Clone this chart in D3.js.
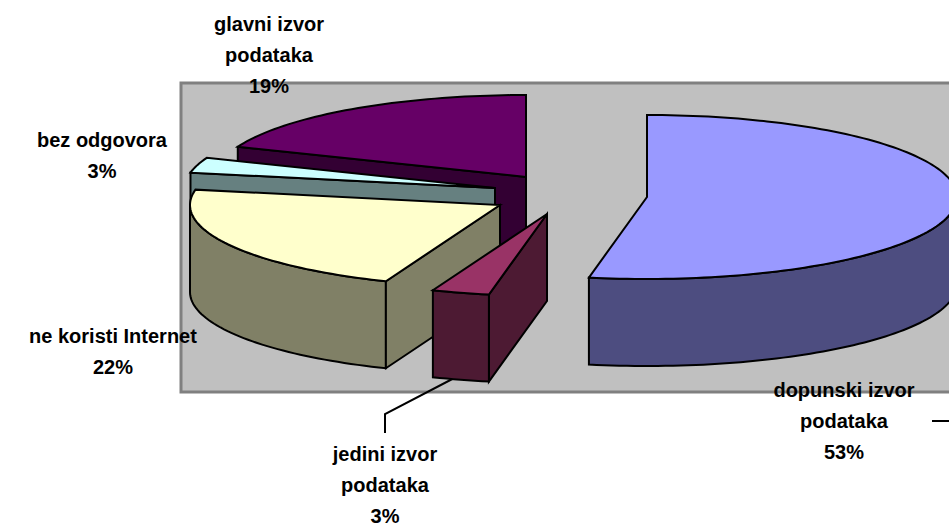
<!DOCTYPE html>
<html>
<head>
<meta charset="utf-8">
<script src="https://cdn.jsdelivr.net/npm/d3@7"></script>
<style>
  html, body { margin: 0; padding: 0; background: #fff; overflow: hidden; }
  text { font-family: "Liberation Sans", Arial, sans-serif; font-weight: bold; font-size: 20px; fill: #000; }
</style>
</head>
<body>
<div id="vis"></div>
<script>
// slices, clockwise from 12 o'clock
var categories = ["dopunski izvor podataka", "jedini izvor podataka", "ne koristi Internet", "bez odgovora", "glavni izvor podataka"];
var values = [53, 3, 22, 3, 19];
var topColors = ["#9999ff", "#993366", "#ffffcc", "#ccffff", "#660066"];
var sideColors = ["#4d4d80", "#4d1a33", "#808066", "#668080", "#330033"];

// where each exploded slice has its apex
var apexX = [647, 547, 500, 495, 526];
var apexY = [197, 214, 205, 188, 177];

// label lines and where they sit
var labelLines = [
  ["dopunski izvor", "podataka", "53%"],
  ["jedini izvor", "podataka", "3%"],
  ["ne koristi Internet", "22%"],
  ["bez odgovora", "3%"],
  ["glavni izvor", "podataka", "19%"]
];
var labelX = [844, 385, 113, 102, 269];
var labelY = [397, 461, 343, 147, 31];
var lineGap = 31;

var width = 949, height = 524;
var depth = 87;
var plot = {left: 181, top: 83, right: 965, bottom: 392};

var svg = d3.select("#vis")
  .append("svg")
  .attr("width", width)
  .attr("height", height)
  .style("display", "block");

// unit circle -> flattened pie
var xScale = d3.scaleLinear().domain([-1, 1]).range([-310, 310]);
var yScale = d3.scaleLinear().domain([-1, 1]).range([-82, 82]);

var pie = d3.pie().sort(null).startAngle(0).endAngle(2 * Math.PI);
var slices = pie(values);

var line = d3.line();

function rim(i, a) {
  return [apexX[i] + xScale(Math.sin(a)), apexY[i] + yScale(-Math.cos(a))];
}

function rimPoints(i, a0, a1) {
  var n = Math.max(2, Math.ceil((a1 - a0) * 40));
  return d3.range(n + 1).map(function(k) {
    return rim(i, a0 + (a1 - a0) * k / n);
  });
}

function drop(p) {
  return [p[0], p[1] + depth];
}

function drawFace(pts, color) {
  svg.append("path")
    .attr("d", line(pts) + "Z")
    .attr("fill", color)
    .attr("stroke", "#000")
    .attr("stroke-width", 2)
    .attr("stroke-linejoin", "miter");
}

function cutFace(i, a) {
  var apex = [apexX[i], apexY[i]];
  var p = rim(i, a);
  drawFace([apex, p, drop(p), drop(apex)], sideColors[i]);
}

function outerWall(i, a0, a1) {
  // only the front half of the rim shows
  var from = Math.max(a0, Math.PI / 2);
  var to = Math.min(a1, Math.PI * 1.5);
  if (to <= from) return;
  var pts = rimPoints(i, from, to);
  drawFace(pts.concat(pts.map(drop).reverse()), sideColors[i]);
}

function topFace(i, a0, a1) {
  var apex = [apexX[i], apexY[i]];
  drawFace([apex].concat(rimPoints(i, a0, a1)), topColors[i]);
}

// plot area
svg.append("rect")
  .attr("x", plot.left)
  .attr("y", plot.top)
  .attr("width", plot.right - plot.left)
  .attr("height", plot.bottom - plot.top)
  .attr("fill", "#c0c0c0")
  .attr("stroke", "#808080")
  .attr("stroke-width", 3);

// back to front
var drawOrder = [4, 3, 0, 2];
drawOrder.forEach(function(i) {
  var s = slices[i];
  if (i == 4 || i == 3) cutFace(i, s.startAngle);
  outerWall(i, s.startAngle, s.endAngle);
  if (i == 2) cutFace(i, s.startAngle);
  topFace(i, s.startAngle, s.endAngle);
});

// leader lines
svg.append("path")
  .attr("d", line([[385, 433], [385, 414], [460, 375]]))
  .attr("fill", "none")
  .attr("stroke", "#000")
  .attr("stroke-width", 2);
svg.append("path")
  .attr("d", line([[932, 421], [960, 421]]))
  .attr("fill", "none")
  .attr("stroke", "#000")
  .attr("stroke-width", 2);

// small slice last, it sits in front of everything
var s = slices[1];
cutFace(1, s.startAngle);
outerWall(1, s.startAngle, s.endAngle);
topFace(1, s.startAngle, s.endAngle);

// labels
labelLines.forEach(function(lines, i) {
  svg.append("text")
    .attr("text-anchor", "middle")
    .selectAll("tspan")
    .data(lines)
    .enter()
    .append("tspan")
    .attr("x", labelX[i])
    .attr("y", function(d, k) { return labelY[i] + k * lineGap; })
    .text(function(d) { return d; });
});
</script>
</body>
</html>
